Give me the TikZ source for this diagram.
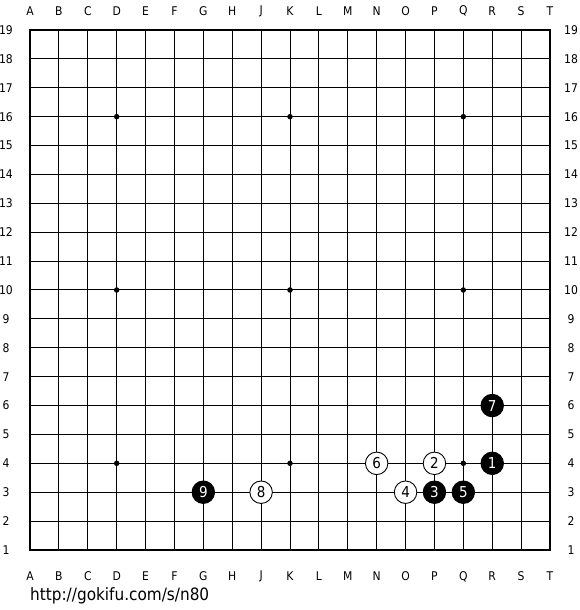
\documentclass[tikz,border=0pt]{standalone}
\usepackage{fontspec}
\setmainfont{DejaVu Sans}
\newfontfamily\cond{DejaVu Sans Condensed}
\begin{document}
\begin{tikzpicture}[x=28.8889pt,y=28.8889pt,
  gridline/.style={line width=1pt,black},
  border/.style={line width=2.6pt,black},
  coordlabel/.style={font=\cond\fontsize{12}{14}\selectfont,inner sep=0pt},
  hoshi/.style={circle,fill=black,inner sep=0pt,minimum size=5.5pt},
  wstone/.style={circle,draw=black,fill=white,line width=0.9pt,inner sep=0pt,minimum size=22.5pt,font=\cond\fontsize{15}{17}\selectfont,text=black},
  bstone/.style={circle,draw=black,fill=black,line width=0.9pt,inner sep=0pt,minimum size=22.5pt,font=\cond\fontsize{15}{17}\selectfont,text=white},
  urltext/.style={font=\cond\fontsize{17}{19}\selectfont,inner sep=0pt,anchor=base west}]
\useasboundingbox (-30pt,-60pt) rectangle ([shift={(30pt,30pt)}]18,18);
\fill[white] (-30pt,-60pt) rectangle ([shift={(30pt,30pt)}]18,18);
% grid
\foreach \i in {1,...,17} {
  \draw[gridline] (\i,0) -- (\i,18);
  \draw[gridline] (0,\i) -- (18,\i);
}
\draw[border] (0,0) rectangle (18,18);
% column labels
\foreach \l [count=\i from 0] in {A,B,C,D,E,F,G,H,J,K,L,M,N,O,P,Q,R,S,T} {
  \node[coordlabel] (top\l) at ([yshift=19pt]\i,18) {\l};
  \node[coordlabel] (bot\l) at ([yshift=-26.5pt]\i,0) {\l};
}
% row labels
\foreach \r in {1,...,19} {
  \pgfmathtruncatemacro{\yy}{\r-1}
  \node[coordlabel] (left\r) at ([xshift=-24pt]0,\yy) {\r};
  \node[coordlabel] (right\r) at ([xshift=21pt]18,\yy) {\r};
}
% hoshi
\foreach \hx in {3,9,15} {
  \foreach \hy in {3,9,15} {
    \node[hoshi] (h\hx-\hy) at (\hx,\hy) {};
  }
}
% stones
\node[bstone] (s1) at (16,3) {1};
\node[wstone] (s2) at (14,3) {2};
\node[bstone] (s3) at (14,2) {3};
\node[wstone] (s4) at (13,2) {4};
\node[bstone] (s5) at (15,2) {5};
\node[wstone] (s6) at (12,3) {6};
\node[bstone] (s7) at (16,5) {7};
\node[wstone] (s8) at (8,2) {8};
\node[bstone] (s9) at (6,2) {9};
% url
\node[urltext] (url) at ([yshift=-50pt]0,0) {http://gokifu.com/s/n80};
\end{tikzpicture}
\end{document}
